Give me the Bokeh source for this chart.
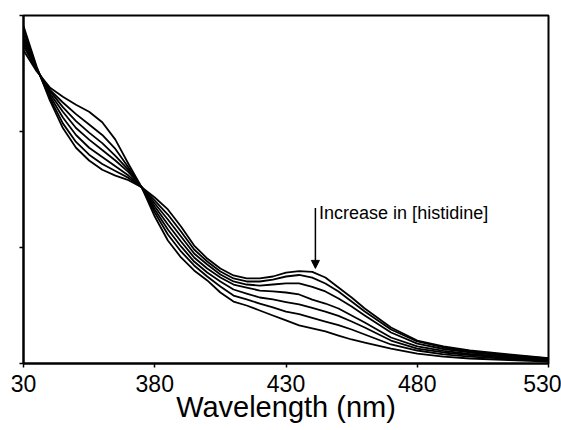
from bokeh.plotting import figure
from bokeh.models import FixedTicker, Range1d, Arrow, NormalHead, Label
from bokeh.embed import file_html
from bokeh.resources import INLINE

wavelength = [330, 335, 340, 345, 350, 355, 360, 365, 370, 375, 380, 385, 390, 395,
              400, 405, 410, 415, 420, 425, 430, 435, 440, 445, 450, 455, 460, 470,
              480, 490, 500, 515, 530]

abs_0 = [2.70, 2.52, 2.38, 2.30, 2.23, 2.17, 2.08, 1.93, 1.72, 1.52, 1.267, 1.060, 0.914, 0.802,
         0.716, 0.612, 0.534, 0.500, 0.457, 0.414, 0.371, 0.328, 0.302, 0.276, 0.241, 0.207, 0.181, 0.129,
         0.086, 0.060, 0.043, 0.030, 0.017]
abs_1 = [2.74, 2.53, 2.36, 2.25, 2.15, 2.06, 1.97, 1.85, 1.69, 1.52, 1.302, 1.112, 0.966, 0.845,
         0.750, 0.664, 0.586, 0.552, 0.517, 0.483, 0.448, 0.425, 0.393, 0.362, 0.330, 0.293, 0.250, 0.164,
         0.112, 0.078, 0.060, 0.039, 0.022]
abs_2 = [2.77, 2.535, 2.35, 2.21, 2.09, 1.99, 1.90, 1.79, 1.67, 1.52, 1.328, 1.155, 1.009, 0.879,
         0.784, 0.707, 0.638, 0.603, 0.569, 0.552, 0.530, 0.510, 0.480, 0.448, 0.410, 0.362, 0.310, 0.198,
         0.129, 0.095, 0.073, 0.047, 0.026]
abs_3 = [2.80, 2.54, 2.33, 2.17, 2.03, 1.93, 1.84, 1.75, 1.65, 1.52, 1.353, 1.198, 1.052, 0.914,
         0.819, 0.741, 0.681, 0.655, 0.629, 0.621, 0.612, 0.595, 0.550, 0.517, 0.474, 0.414, 0.353, 0.224,
         0.147, 0.108, 0.082, 0.056, 0.030]
abs_4 = [2.83, 2.545, 2.31, 2.12, 1.97, 1.86, 1.78, 1.70, 1.62, 1.52, 1.379, 1.241, 1.095, 0.948,
         0.853, 0.767, 0.707, 0.681, 0.672, 0.681, 0.690, 0.690, 0.660, 0.621, 0.560, 0.491, 0.414, 0.267,
         0.172, 0.125, 0.095, 0.065, 0.039]
abs_5 = [2.87, 2.55, 2.29, 2.07, 1.91, 1.80, 1.72, 1.66, 1.60, 1.52, 1.405, 1.284, 1.138, 0.983,
         0.879, 0.793, 0.733, 0.707, 0.707, 0.724, 0.750, 0.763, 0.740, 0.690, 0.621, 0.534, 0.448, 0.293,
         0.190, 0.138, 0.103, 0.073, 0.043]
abs_6 = [2.91, 2.56, 2.27, 2.03, 1.86, 1.75, 1.67, 1.62, 1.58, 1.52, 1.431, 1.328, 1.181, 1.017,
         0.905, 0.819, 0.759, 0.733, 0.733, 0.750, 0.784, 0.797, 0.790, 0.741, 0.655, 0.569, 0.474, 0.310,
         0.198, 0.147, 0.112, 0.078, 0.047]

series = [abs_0, abs_1, abs_2, abs_3, abs_4, abs_5, abs_6]

x_ticks = [330, 380, 430, 480, 530]
x_tick_labels = ["30", "380", "430", "480", "530"]
y_ticks = [0, 1, 2, 3]

annotation_text = "Increase in [histidine]"
arrow_x = 441.2
arrow_y_start = 1.34
arrow_y_end = 0.82
label_x = 442.6
label_y = 1.30

FONT = "Liberation Sans"

p = figure(width=561, height=430, output_backend="svg", toolbar_location=None,
           x_range=Range1d(330, 530), y_range=Range1d(0, 3.0),
           min_border_left=23, min_border_right=13, min_border_top=15, min_border_bottom=67)

for s in series:
    p.line(wavelength, s, line_color="black", line_width=1.8, line_join="round")

p.xgrid.visible = False
p.ygrid.visible = False
p.outline_line_color = "black"
p.outline_line_width = 2
p.outline_line_alpha = 1

p.xaxis.ticker = FixedTicker(ticks=x_ticks)
p.xaxis.major_label_overrides = {t: l for t, l in zip(x_ticks, x_tick_labels)}
p.xaxis.minor_tick_line_color = None
p.xaxis.major_tick_in = 0
p.xaxis.major_tick_out = 4
p.xaxis.major_tick_line_width = 1.5
p.xaxis.axis_line_width = 2
p.xaxis.major_label_text_font = FONT
p.xaxis.major_label_text_font_size = "23px"
p.xaxis.major_label_text_color = "black"
p.xaxis.major_label_standoff = 7
p.xaxis.axis_label = "Wavelength (nm)"
p.xaxis.axis_label_text_font = FONT
p.xaxis.axis_label_text_font_size = "29px"
p.xaxis.axis_label_text_font_style = "normal"
p.xaxis.axis_label_text_color = "black"
p.xaxis.axis_label_standoff = -4

p.yaxis.ticker = FixedTicker(ticks=y_ticks)
p.yaxis.minor_tick_line_color = None
p.yaxis.major_tick_in = 0
p.yaxis.major_tick_out = 4
p.yaxis.major_tick_line_width = 1.5
p.yaxis.axis_line_width = 2
p.yaxis.major_label_overrides = {t: "" for t in y_ticks}
p.yaxis.major_label_standoff = 0

p.add_layout(Arrow(end=NormalHead(size=8, fill_color="black", line_color="black"),
                   x_start=arrow_x, y_start=arrow_y_start, x_end=arrow_x, y_end=arrow_y_end,
                   line_color="black", line_width=1.5))
p.add_layout(Label(x=label_x, y=label_y, text=annotation_text, text_font=FONT,
                   text_font_size="18px", text_color="black", text_baseline="alphabetic"))

open("out.html", "w").write(file_html(p, INLINE))
